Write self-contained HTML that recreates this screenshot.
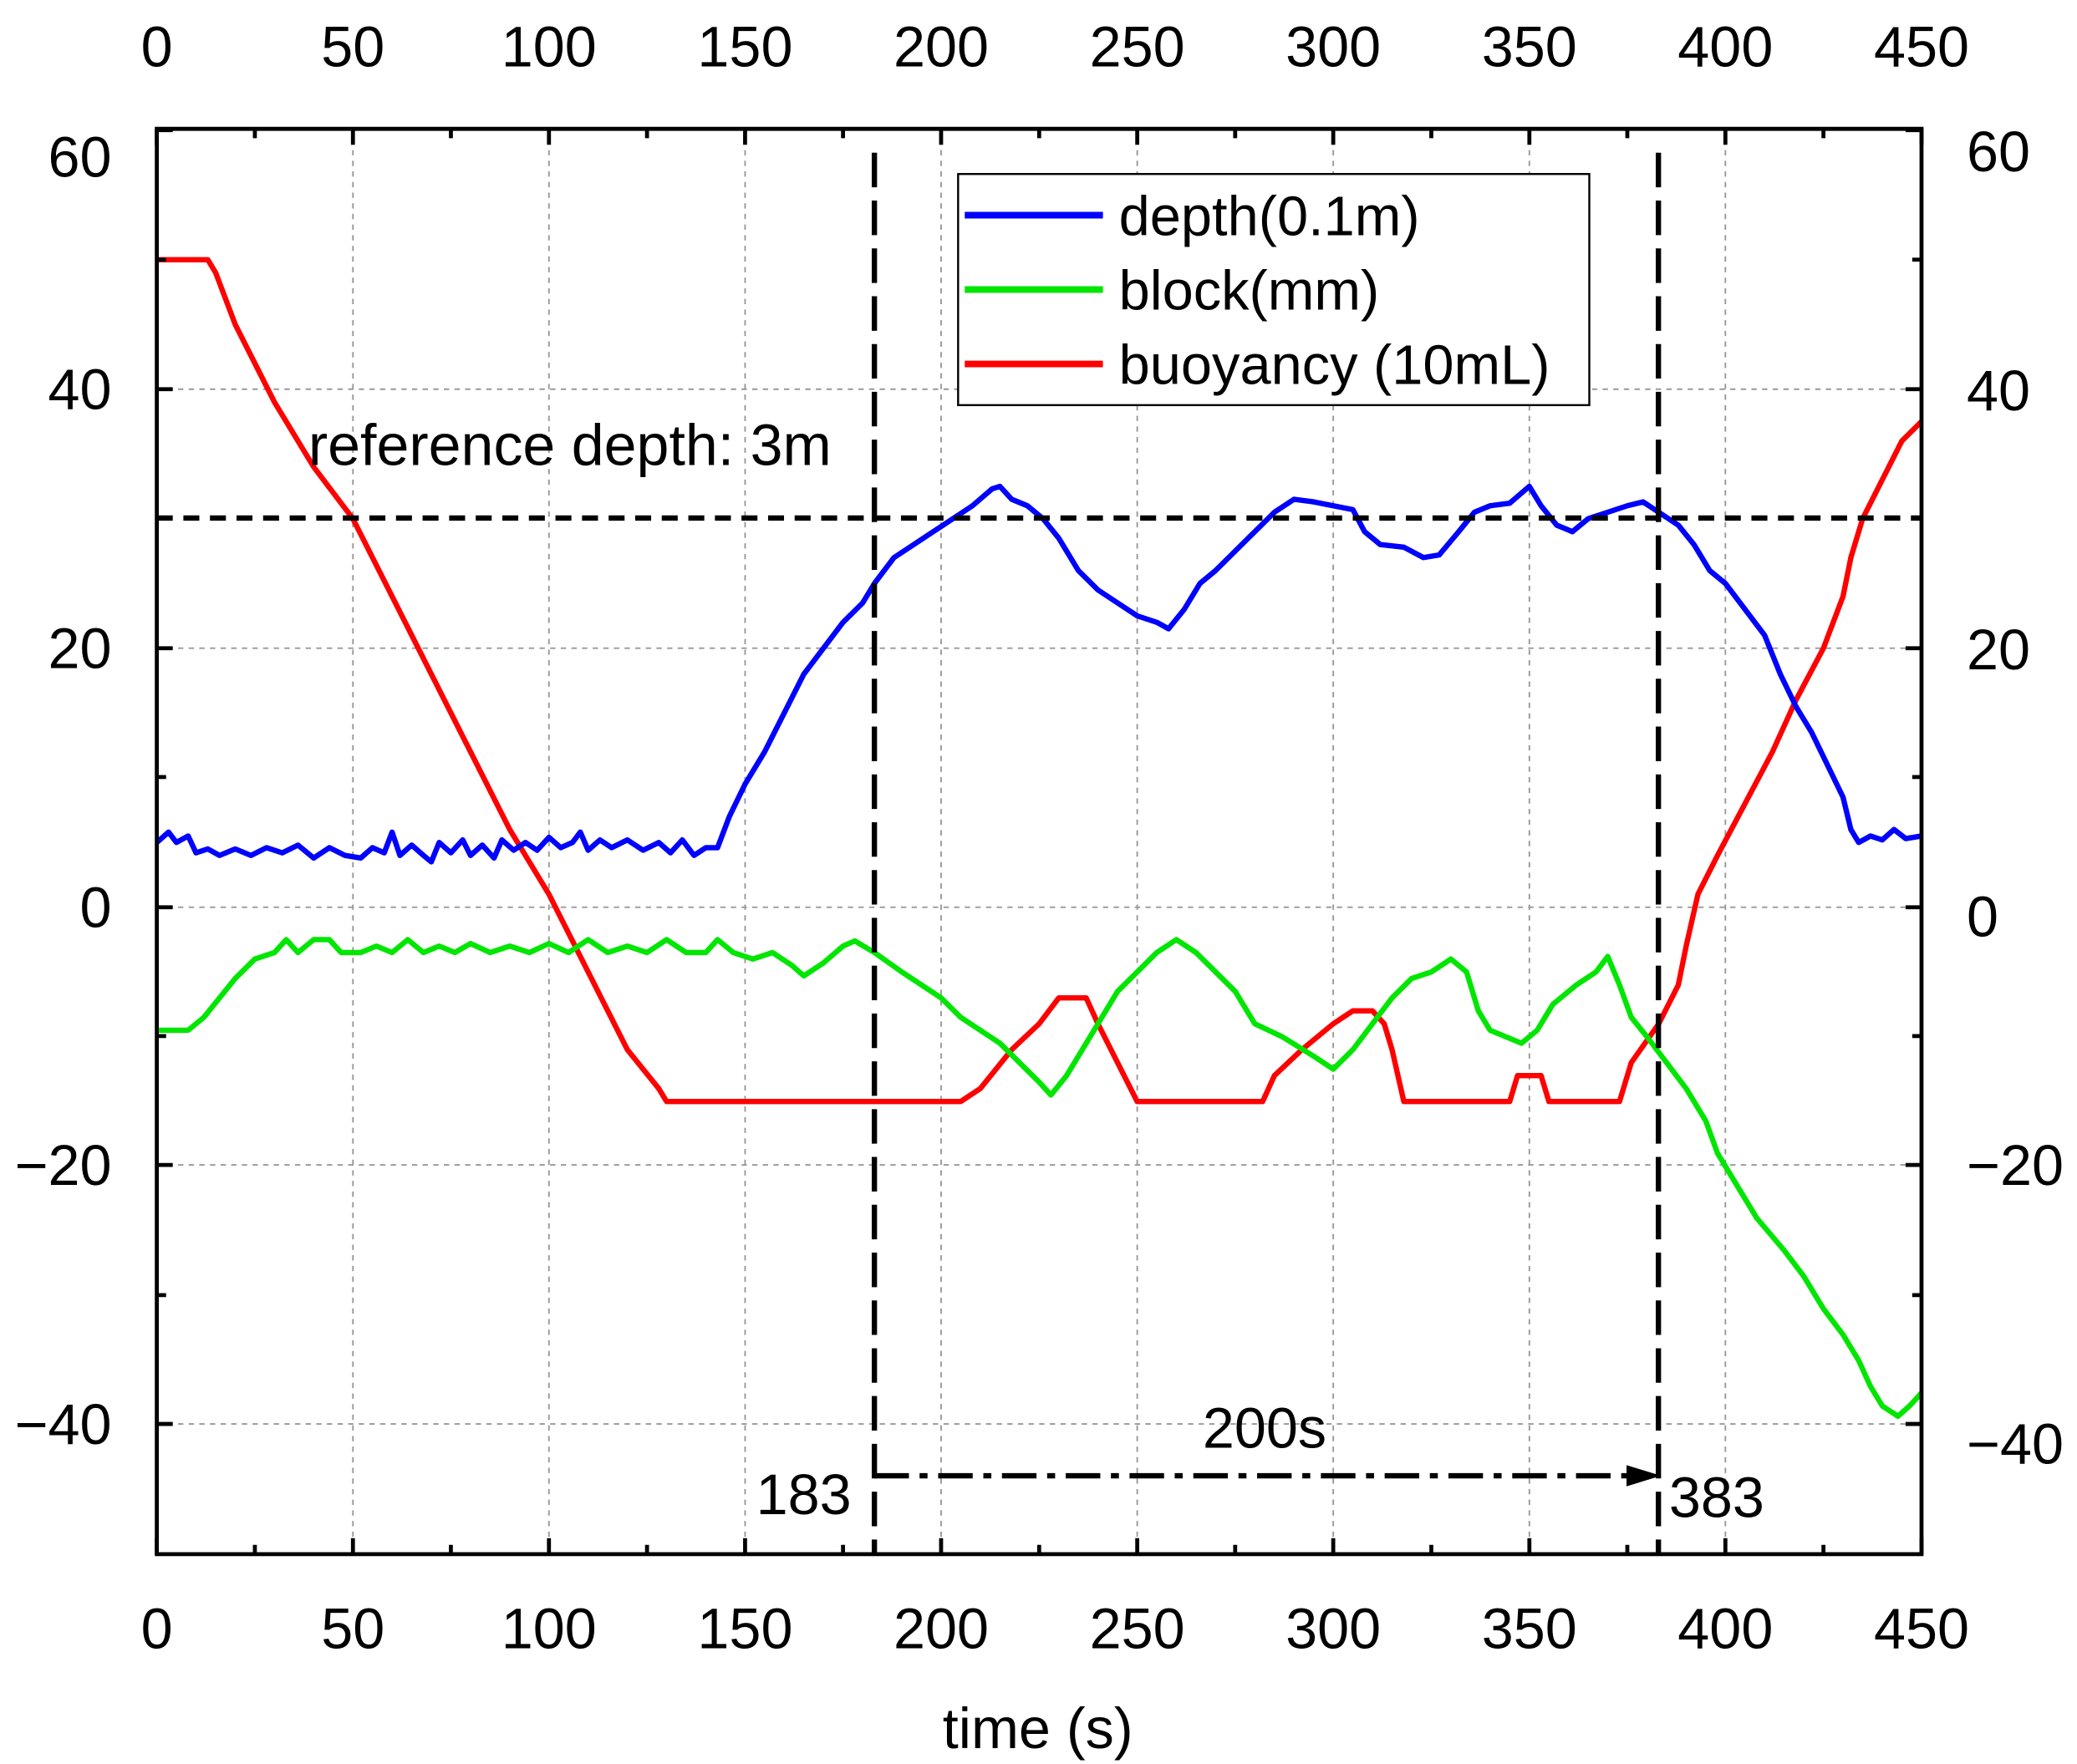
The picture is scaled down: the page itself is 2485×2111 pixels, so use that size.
<!DOCTYPE html>
<html><head><meta charset="utf-8"><style>
html,body{margin:0;padding:0;background:#fff}
svg{display:block}
text{font-family:"Liberation Sans",sans-serif;fill:#000}
</style></head><body>
<svg width="2485" height="2111" viewBox="0 0 1563 1328" preserveAspectRatio="none" xmlns="http://www.w3.org/2000/svg">
<rect width="1563" height="1328" fill="#fff"/>
<g stroke="#999" stroke-width="1.2" stroke-dasharray="4,4" fill="none">
<path d="M265.6,97V1170M413.1,97V1170M560.7,97V1170M708.2,97V1170M855.8,97V1170M1003.3,97V1170M1150.9,97V1170M1298.4,97V1170"/>
<path d="M118,293H1446M118,488H1446M118,683H1446M118,877H1446M118,1072H1446"/>
</g>
<g transform="translate(118,683) scale(2.951,-9.75)" fill="none" stroke-linejoin="round">
<polyline vector-effect="non-scaling-stroke" stroke="#ff0000" stroke-width="6.4" points="0,50 13,50 15,49 20,45 30,39 40,34 50,30 60,24 70,18 80,12 90,6 100,1 110,-5 120,-11 128,-14 130,-15 205,-15 210,-14 218,-11 225,-9 230,-7 237,-7 240,-9 245,-12 250,-15 282,-15 285,-13 292,-11 300,-9 305,-8 310,-8 313,-9 315,-11 318,-15 345,-15 347,-13 353,-13 355,-15 373,-15 376,-12 383,-9 388,-6 390,-3 393,1 398,4 405,8 412,12 418,16 425,20 430,24 432,27 435,30 440,33 445,36 450,37.5"/>
<polyline vector-effect="non-scaling-stroke" stroke="#00e600" stroke-width="6.4" points="0,-9.5 8,-9.5 12,-8.5 20,-5.5 25,-4 30,-3.5 33,-2.5 36,-3.5 40,-2.5 44,-2.5 47,-3.5 52,-3.5 56,-3 60,-3.5 64,-2.5 68,-3.5 72,-3 76,-3.5 80,-2.8 85,-3.5 90,-3 95,-3.5 100,-2.8 105,-3.5 110,-2.5 115,-3.5 120,-3 125,-3.5 130,-2.5 135,-3.5 140,-3.5 143,-2.5 147,-3.5 152,-4 157,-3.5 162,-4.5 165,-5.3 170,-4.3 175,-3 178,-2.6 183,-3.5 190,-5 195,-6 200,-7 205,-8.5 210,-9.5 215,-10.5 220,-12 225,-13.5 228,-14.5 232,-13 236,-11 240,-9 245,-6.5 250,-5 255,-3.5 260,-2.5 265,-3.5 270,-5 275,-6.5 280,-9 287,-10 295,-11.5 300,-12.5 305,-11 310,-9 315,-7 320,-5.5 325,-5 330,-4 334,-5 337,-8 340,-9.5 344,-10 348,-10.5 352,-9.5 356,-7.5 362,-6 367,-5 370,-3.8 373,-6 376,-8.5 380,-10 385,-12 390,-14 395,-16.5 398,-19 402,-21 408,-24 415,-26.5 420,-28.5 425,-31 430,-33 434,-35 437,-37 440,-38.5 444,-39.3 447,-38.5 450,-37.5"/>
<polyline vector-effect="non-scaling-stroke" stroke="#0000ff" stroke-width="6.4" points="0,5 3,5.8 5,5 8,5.5 10,4.2 13,4.5 16,4 20,4.5 24,4 28,4.6 32,4.2 36,4.8 40,3.8 44,4.6 48,4 52,3.8 55,4.6 58,4.2 60,5.8 62,4 65,4.8 68,4 70,3.5 72,5 75,4.2 78,5.2 80,4 83,4.8 86,3.8 88,5.2 91,4.4 94,5 97,4.4 100,5.4 103,4.6 106,5 108,5.8 110,4.4 113,5.2 116,4.6 120,5.2 124,4.4 128,5 131,4.2 134,5.2 137,4 140,4.6 143,4.6 146,7 150,9.5 155,12 160,15 165,18 170,20 175,22 180,23.5 183,25 188,27 193,28 198,29 203,30 208,31 213,32.3 215,32.5 218,31.5 222,31 226,30 230,28.5 235,26 240,24.5 245,23.5 250,22.5 255,22 258,21.5 262,23 266,25 270,26 275,27.5 280,29 285,30.5 290,31.5 295,31.3 300,31 305,30.7 308,29 312,28 318,27.8 323,27 327,27.2 332,29 336,30.5 340,31 345,31.2 350,32.5 353,31 357,29.5 361,29 365,30 370,30.5 375,31 379,31.3 383,30.5 388,29.5 392,28 396,26 400,25 405,23 410,21 414,18 418,15.5 422,13.5 426,11 430,8.5 432,6 434,5 437,5.5 440,5.2 443,6 446,5.3 450,5.5"/>
</g>
<g stroke="#000" stroke-width="4" fill="none">
<path d="M118,390H1446" stroke-dasharray="12,8"/>
<path d="M658,115V1170M1248,115V1170" stroke-dasharray="26,10"/>
<path d="M658,1111H1228" stroke-dasharray="26,8,6,8"/>
</g>
<polygon points="1224,1103 1250,1111 1224,1119" fill="#000"/>
<g stroke="#000" stroke-width="3" fill="none">
<path d="M118,97H1446V1170H118Z"/>
<path d="M118,1170v-12M191.8,1170v-7M265.6,1170v-12M339.3,1170v-7M413.1,1170v-12M486.9,1170v-7M560.7,1170v-12M634.4,1170v-7M708.2,1170v-12M782,1170v-7M855.8,1170v-12M929.5,1170v-7M1003.3,1170v-12M1077.1,1170v-7M1150.9,1170v-12M1224.6,1170v-7M1298.4,1170v-12M1372.2,1170v-7M1446,1170v-12"/>
<path d="M118,97v12M191.8,97v7M265.6,97v12M339.3,97v7M413.1,97v12M486.9,97v7M560.7,97v12M634.4,97v7M708.2,97v12M782,97v7M855.8,97v12M929.5,97v7M1003.3,97v12M1077.1,97v7M1150.9,97v12M1224.6,97v7M1298.4,97v12M1372.2,97v7M1446,97v12"/>
<path d="M118,98h12M118,195.5h7M118,293h12M118,390h7M118,488h12M118,585h7M118,683h12M118,780h7M118,877h12M118,975h7M118,1072h12"/>
<path d="M1446,98h-12M1446,195.5h-7M1446,293h-12M1446,390h-7M1446,488h-12M1446,585h-7M1446,683h-12M1446,780h-7M1446,877h-12M1446,975h-7M1446,1072h-12"/>
</g>
<g font-size="43" text-anchor="middle">
<text x="118" y="1241">0</text><text x="265.6" y="1241">50</text><text x="413.1" y="1241">100</text><text x="560.7" y="1241">150</text><text x="708.2" y="1241">200</text><text x="855.8" y="1241">250</text><text x="1003.3" y="1241">300</text><text x="1150.9" y="1241">350</text><text x="1298.4" y="1241">400</text><text x="1446" y="1241">450</text>
<text x="118" y="50">0</text><text x="265.6" y="50">50</text><text x="413.1" y="50">100</text><text x="560.7" y="50">150</text><text x="708.2" y="50">200</text><text x="855.8" y="50">250</text><text x="1003.3" y="50">300</text><text x="1150.9" y="50">350</text><text x="1298.4" y="50">400</text><text x="1446" y="50">450</text>
<text x="781" y="1316">time (s)</text>
</g>
<g font-size="43" text-anchor="end">
<text x="84" y="133">60</text><text x="84" y="308">40</text><text x="84" y="503">20</text><text x="84" y="698">0</text><text x="84" y="892">−20</text><text x="84" y="1087">−40</text>
</g>
<g font-size="43" text-anchor="start">
<text x="1480" y="129">60</text><text x="1480" y="309">40</text><text x="1480" y="504">20</text><text x="1480" y="705">0</text><text x="1480" y="892">−20</text><text x="1480" y="1102">−40</text>
</g>
<g font-size="43">
<text x="232" y="350" font-size="44">reference depth: 3m</text>
<text x="905" y="1090">200s</text>
<text x="569" y="1140">183</text>
<text x="1256" y="1142">383</text>
</g>
<rect x="721" y="131" width="475" height="174" fill="#fff" stroke="#000" stroke-width="1.5"/>
<g stroke-width="5">
<line x1="726" y1="162" x2="830" y2="162" stroke="#0000ff"/>
<line x1="726" y1="218" x2="830" y2="218" stroke="#00e600"/>
<line x1="726" y1="274" x2="830" y2="274" stroke="#ff0000"/>
</g>
<g font-size="42">
<text x="842" y="177">depth(0.1m)</text>
<text x="842" y="233">block(mm)</text>
<text x="842" y="289">buoyancy (10mL)</text>
</g>
</svg>
</body></html>
